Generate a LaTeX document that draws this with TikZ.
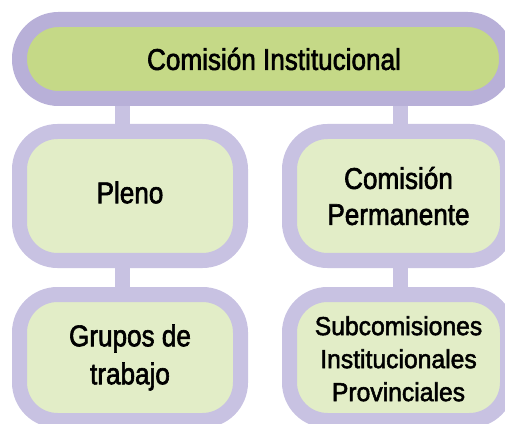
\documentclass[tikz,border=0pt]{standalone}
\usepackage{fontspec}
\setmainfont{Liberation Sans}[FakeStretch=0.87,FakeBold=2]
\newfontfamily\subfont{Liberation Sans}[FakeStretch=0.95,FakeBold=2]
\usetikzlibrary{backgrounds}
\definecolor{topborder}{HTML}{B8B0D8}
\definecolor{topfill}{HTML}{C5D987}
\definecolor{lowborder}{HTML}{C8C2E2}
\definecolor{lowfill}{HTML}{E2EDC7}
\begin{document}
\begin{tikzpicture}[x=1pt,y=1pt,
  box/.style={draw=lowborder, fill=lowfill, line width=15pt, rounded corners=38pt,
    inner sep=0pt, align=center, text=black, font=\fontsize{30}{36}\selectfont},
  conn/.style={draw=lowborder, line width=15pt}]
\useasboundingbox (0,0) rectangle (505,423);
\node[box, draw=topborder, fill=topfill, rounded corners=39pt, minimum width=487pt, minimum height=79pt] (top) at (263,364) {\hspace*{22pt}Comisión Institucional};
\node[box, minimum width=221pt, minimum height=129pt] (pleno) at (130,227) {\raisebox{3.5pt}[\height][\depth]{Pleno}};
\node[box, minimum width=221pt, minimum height=126pt, font=\fontsize{30}{38}\selectfont] (grupos) at (130,65.5) {Grupos de\\trabajo};
\node[box, minimum width=218pt, minimum height=129pt] (perm) at (398.5,227) {Comisión\\Permanente};
\node[box, minimum width=218pt, minimum height=126pt, font=\subfont\fontsize{26}{33}\selectfont] (sub) at (398.5,65.5) {\raisebox{-4pt}[\height][\depth]{\begin{tabular}{@{}c@{}}Subcomisiones\\Institucionales\\Provinciales\end{tabular}}};
\coordinate (cl) at (122,0);
\coordinate (cr) at (400.5,0);
\begin{scope}[on background layer]
\draw[conn] (top.south -| cl) -- (pleno.north -| cl);
\draw[conn] (pleno.south -| cl) -- (grupos.north -| cl);
\draw[conn] (top.south -| cr) -- (perm.north -| cr);
\draw[conn] (perm.south -| cr) -- (sub.north -| cr);
\end{scope}
\end{tikzpicture}
\end{document}
